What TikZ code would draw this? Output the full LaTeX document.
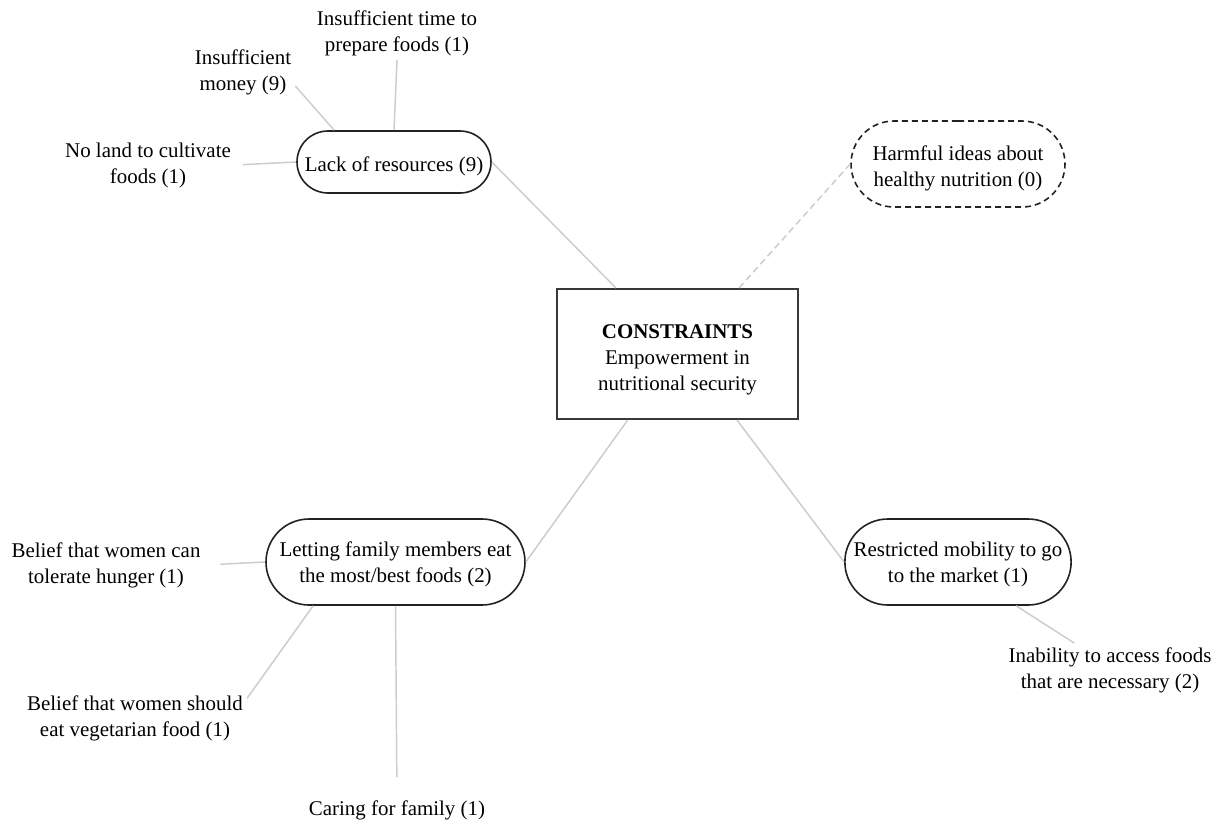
\documentclass[tikz,border=0pt]{standalone}
\usepackage{fontspec}
\setmainfont{Liberation Serif}
\usetikzlibrary{shapes.misc}
\definecolor{linkgray}{HTML}{CCCCCC}
\definecolor{edgedark}{HTML}{222222}
% set a centred block of lines a little lower while keeping its box size
\newcommand\lowtext[2]{\raisebox{-#1}[\height][\depth]{\begin{tabular}{@{}c@{}}#2\end{tabular}}}
\tikzset{
  txt/.style={font=\fontsize{15.7pt}{19.5pt}\selectfont, align=center, inner sep=3pt},
  pill/.style={txt, rounded rectangle, draw=edgedark, line width=1.2pt, inner sep=0pt},
  corebox/.style={txt, rectangle, draw=edgedark!90, line width=1.5pt, inner sep=0pt,
    minimum width=180.75pt, minimum height=97.5pt},
  link/.style={draw=linkgray, line width=1.1pt},
  dashlink/.style={link, dash pattern=on 5pt off 3pt},
}
\begin{document}
\begin{tikzpicture}[x=0.75pt, y=-0.75pt]
\useasboundingbox (0,0) rectangle (1222,825);

% central box
\node[corebox] (core) at (677.5,354) {\lowtext{4pt}{\textbf{CONSTRAINTS}\\Empowerment in\\nutritional security}};

% first-level constraints
\node[pill, minimum width=145.5pt, minimum height=46.5pt] (lack) at (394,162) {\lowtext{3.5pt}{Lack of resources (9)}};
\node[pill, dashed, dash pattern=on 4.5pt off 3pt, minimum width=160.5pt, minimum height=64.5pt] (harm) at (958,164) {\lowtext{3.5pt}{Harmful ideas about\\healthy nutrition (0)}};
\node[pill, minimum width=194.25pt, minimum height=64.5pt] (let) at (395.5,562) {\lowtext{1.5pt}{Letting family members eat\\the most/best foods (2)}};
\node[pill, minimum width=166.5pt, minimum height=64.5pt] (mob) at (958,562) {\lowtext{1.5pt}{Restricted mobility to go\\to the market (1)}};

% leaves
\node[txt] (time) at (397,33) {Insufficient time to\\prepare foods (1)};
\node[txt] (money) at (243,72) {Insufficient\\money (9)};
\node[txt] (land) at (148,165) {No land to cultivate\\foods (1)};
\node[txt] (hunger) at (106,565) {Belief that women can\\tolerate hunger (1)};
\node[txt] (veg) at (135,718) {Belief that women should\\eat vegetarian food (1)};
\node[txt] (care) at (397,810) {Caring for family (1)};
\node[txt] (access) at (1110,670) {Inability to access foods\\that are necessary (2)};

% connectors from the core
\draw[link] (core.133) -- (lack.east);
\draw[dashlink] (core.47) -- (harm.west);
\draw[link] (core.233) -- (let.east);
\draw[link] (core.312.5) -- (mob.west);

% connectors to leaves
\draw[link] (lack.north) -- (time.south);
\draw[link] (lack.152) -- (money.-15);
\draw[link, shorten <=6pt] (land.east) -- (lack.west);
\draw[link, shorten <=12pt] (hunger.east) -- (let.west);
\draw[link] (let.208.6) -- (veg.10);
\draw[link, shorten >=14pt] (let.south) -- (care.north);
\draw[link] (mob.323) -- (access.143);
\end{tikzpicture}
\end{document}
